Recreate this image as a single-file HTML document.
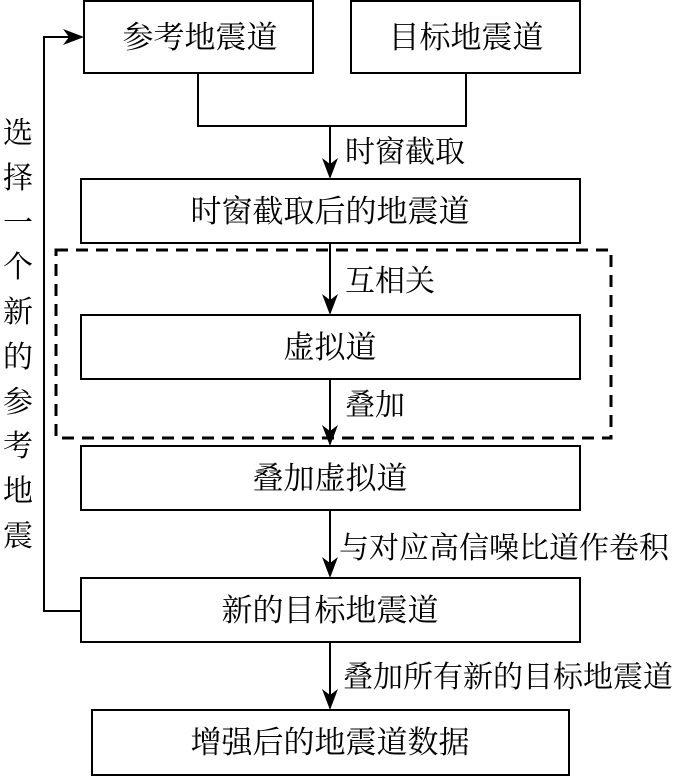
<!DOCTYPE html>
<html><head><meta charset="utf-8"><style>
body{margin:0;background:#fff}
svg text{font-family:"Liberation Serif","Noto Serif CJK SC","Noto Sans CJK SC",serif;fill:#000}
</style></head><body>
<svg width="700" height="776" viewBox="0 0 700 776" xmlns="http://www.w3.org/2000/svg">
<g fill="none" stroke="#000" stroke-width="2">
<rect x="84" y="1" width="229" height="72"/>
<rect x="351" y="1" width="229" height="72"/>
<rect x="81" y="179" width="499" height="64"/>
<rect x="81" y="315" width="499" height="64"/>
<rect x="81" y="446" width="499" height="64"/>
<rect x="81" y="578" width="499" height="64"/>
<rect x="92" y="710" width="477" height="65"/>
<rect x="56" y="250" width="555" height="188" stroke-width="3" stroke-dasharray="12,8"/>
<polyline points="198,73 198,126 466,126 466,73"/>
<line x1="330" y1="126" x2="330" y2="170"/>
<line x1="330" y1="243" x2="330" y2="306"/>
<line x1="330" y1="379" x2="330" y2="437"/>
<line x1="330" y1="510" x2="330" y2="569"/>
<line x1="330" y1="642" x2="330" y2="701"/>
<polyline points="81,611 44,611 44,37 76,37"/>
</g>
<g fill="#000">
<path d="M330,179 L322,158 L330,164 L338,158 Z"/>
<path d="M330,315 L322,294 L330,300 L338,294 Z"/>
<path d="M330,446 L322,425 L330,431 L338,425 Z"/>
<path d="M330,578 L322,557 L330,563 L338,557 Z"/>
<path d="M330,710 L322,689 L330,695 L338,689 Z"/>
<path d="M84,37 L63,29 L69,37 L63,45 Z"/>
</g>
<g font-size="31" text-anchor="middle">
<text x="200" y="48">参考地震道</text>
<text x="466" y="48">目标地震道</text>
<text x="330" y="222">时窗截取后的地震道</text>
<text x="330" y="358">虚拟道</text>
<text x="330" y="489">叠加虚拟道</text>
<text x="330" y="621">新的目标地震道</text>
<text x="330" y="753">增强后的地震道数据</text>
</g>
<g font-size="30">
<text x="345" y="162">时窗截取</text>
<text x="345" y="291">互相关</text>
<text x="345" y="415">叠加</text>
<text x="339" y="558">与对应高信噪比道作卷积</text>
<text x="343" y="687">叠加所有新的目标地震道</text>
</g>
<g font-size="30" text-anchor="middle">
<text x="18" y="143">选</text><text x="18" y="188">择</text><text x="18" y="233">一</text><text x="18" y="277">个</text><text x="18" y="322">新</text><text x="18" y="367">的</text><text x="18" y="412">参</text><text x="18" y="456">考</text><text x="18" y="501">地</text><text x="18" y="546">震</text>
</g>
</svg>
</body></html>
